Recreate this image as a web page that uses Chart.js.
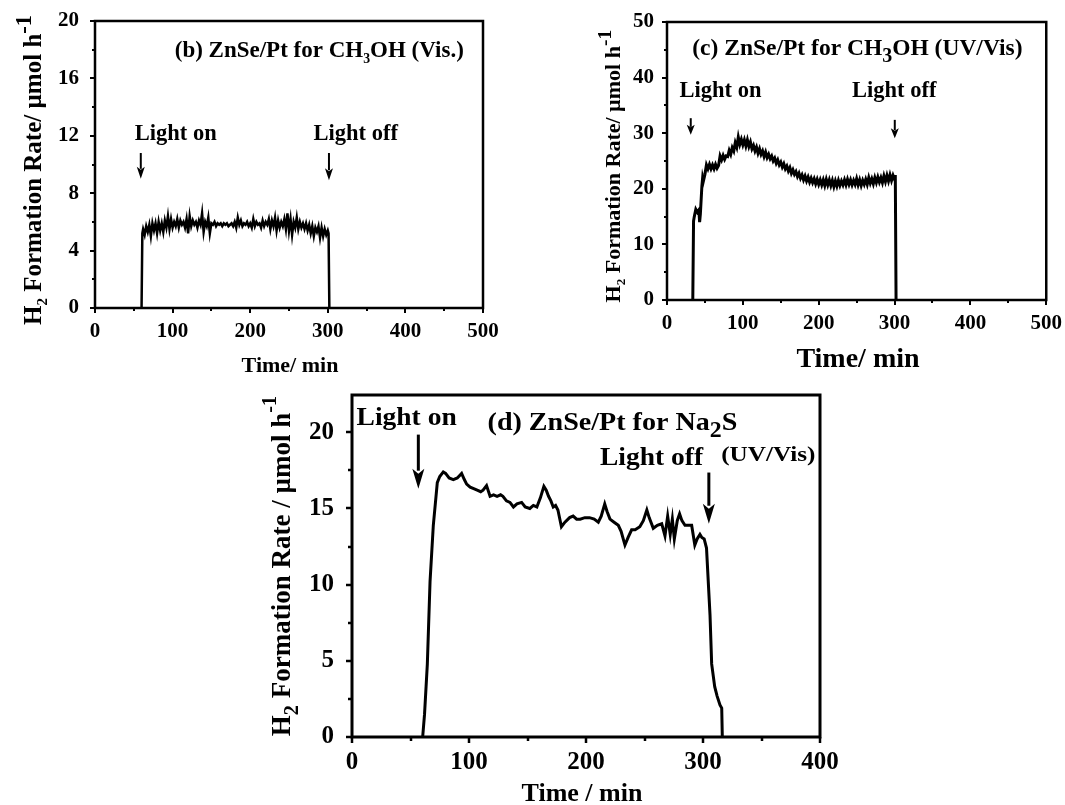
<!DOCTYPE html>
<html>
<head>
<meta charset="utf-8">
<script src="https://cdn.jsdelivr.net/npm/chart.js@4/dist/chart.umd.min.js"></script>
<style>
    body { margin: 0; background: #fff; }
    #wrap { position: relative; width: 1065px; height: 805px; background: #fff; }
    canvas { position: absolute; }
</style>
</head>
<body>
<div id="wrap">
    <canvas id="panelB" width="520" height="380" style="left:0px;top:0px;width:520px;height:380px"></canvas>
    <canvas id="panelC" width="485" height="380" style="left:580px;top:0px;width:485px;height:380px"></canvas>
    <canvas id="panelD" width="600" height="435" style="left:250px;top:370px;width:600px;height:435px"></canvas>
</div>
<script>
const FONT = "'Liberation Serif', 'Times New Roman', Times, serif"

// (b) ZnSe/Pt for CH3OH, visible light
const bTime = [60, 61, 62, 64, 66, 68, 70, 72, 74, 76, 78, 80, 82, 84, 86, 88, 90, 92, 94, 96, 98,
    100, 102, 104, 106, 108, 110, 112, 114, 116, 118, 120, 122, 124, 126, 128, 130, 132, 134, 136, 138,
    140, 142, 144, 146, 148, 150, 152, 154, 156, 158, 160, 162, 164, 166, 168, 170, 172, 174, 176, 178,
    180, 182, 184, 186, 188, 190, 192, 194, 196, 198, 200, 202, 204, 206, 208, 210, 212, 214, 216, 218,
    220, 222, 224, 226, 228, 230, 232, 234, 236, 238, 240, 242, 244, 246, 248, 250, 252, 254, 256, 258,
    260, 262, 264, 266, 268, 270, 272, 274, 276, 278, 280, 282, 284, 286, 288, 290, 292, 294, 296, 298,
    300, 301, 302]
const bRate = [0, 5.2, 5.5, 5.1, 5.7, 5.3, 5.8, 5.0, 5.9, 5.4, 5.9, 5.2, 6.0, 5.4, 5.9, 5.3, 6.1, 5.6, 6.4, 5.5, 6.2,
    5.6, 6.0, 5.7, 6.2, 5.6, 6.1, 5.8, 6.0, 5.6, 6.2, 5.2, 6.4, 5.7, 6.1, 5.8, 6.0, 5.6, 6.1, 5.8, 6.6,
    5.3, 6.0, 5.7, 6.3, 5.2, 5.9, 5.8, 6.0, 5.7, 5.9, 5.8, 5.9, 5.7, 5.9, 5.8, 5.9, 5.7, 5.8, 5.9, 5.7,
    6.0, 5.6, 6.3, 5.8, 6.1, 5.7, 5.9, 5.8, 6.0, 5.7, 5.9, 5.6, 6.2, 5.7, 6.0, 5.8, 5.9, 5.6, 6.1, 5.7,
    6.0, 5.8, 6.2, 5.5, 6.1, 5.7, 6.3, 5.4, 6.1, 5.6, 6.0, 5.7, 6.2, 5.5, 6.6, 5.4, 6.2, 5.1, 6.0, 5.6,
    6.3, 5.5, 6.0, 5.6, 5.9, 5.5, 5.9, 5.4, 5.8, 5.2, 5.7, 5.0, 5.6, 5.3, 5.7, 4.9, 5.6, 5.0, 5.5, 5.1,
    5.4, 5.2, 0]
const bXTicks = [0, 100, 200, 300, 400, 500]
const bXMinor = [50, 150, 250, 350, 450]
const bYTicks = [0, 4, 8, 12, 16, 20]
const bYMinor = [2, 6, 10, 14, 18]

// (c) ZnSe/Pt for CH3OH, UV/Vis
const cTime = [34, 35, 36, 38, 40, 42, 43, 44, 46, 47, 48, 50, 52, 54, 56, 58, 60, 62, 64, 66, 68,
    70, 72, 74, 76, 78, 80, 82, 84, 86, 88, 90, 92, 94, 96, 98, 100, 102, 104, 106, 108,
    110, 112, 114, 116, 118, 120, 122, 124, 126, 128, 130, 132, 134, 136, 138, 140, 142, 144, 146, 148,
    150, 152, 154, 156, 158, 160, 162, 164, 166, 168, 170, 172, 174, 176, 178, 180, 182, 184, 186, 188,
    190, 192, 194, 196, 198, 200, 202, 204, 206, 208, 210, 212, 214, 216, 218, 220, 222, 224, 226, 228,
    230, 232, 234, 236, 238, 240, 242, 244, 246, 248, 250, 252, 254, 256, 258, 260, 262, 264, 266, 268,
    270, 272, 274, 276, 278, 280, 282, 284, 286, 288, 290, 292, 294, 296, 298, 300, 301, 302]
const cRate = [0, 14.2, 15.0, 16.3, 15.8, 16.2, 14.0, 15.5, 20.5, 22.0, 21.4, 22.6, 24.3, 23.6, 24.4, 23.6, 24.3, 23.6, 24.4, 23.7, 24.2,
    25.9, 25.2, 26.0, 25.3, 25.9, 25.8, 26.9, 26.2, 27.4, 26.8, 28.3, 27.5, 29.3, 28.0, 28.9, 27.9, 28.8, 27.7, 28.8, 27.6,
    28.4, 27.2, 27.8, 26.8, 27.5, 26.4, 27.2, 26.2, 26.8, 25.8, 26.6, 25.6, 26.2, 25.4, 25.9, 25.0, 25.5, 24.6, 25.2, 24.3,
    24.8, 23.9, 24.5, 23.6, 24.1, 23.2, 23.8, 22.8, 23.4, 22.6, 23.1, 22.2, 22.8, 21.9, 22.5, 21.6, 22.3, 21.4, 22.1, 21.2,
    21.9, 21.1, 21.8, 20.9, 21.7, 20.8, 21.6, 20.7, 21.6, 20.6, 21.7, 20.7, 21.6, 20.6, 21.5, 20.4, 21.4, 20.5, 21.5, 20.6,
    21.4, 20.7, 21.6, 20.7, 21.7, 20.8, 21.6, 20.7, 21.5, 20.8, 21.8, 20.7, 21.6, 20.6, 21.5, 20.8, 21.7, 20.8, 22.0, 21.0,
    21.8, 20.9, 22.0, 21.1, 22.1, 21.2, 22.0, 21.1, 22.3, 21.3, 22.4, 21.4, 22.5, 21.5, 22.4, 21.7, 22.5, 0]
const cXTicks = [0, 100, 200, 300, 400, 500]
const cXMinor = [50, 150, 250, 350, 450]
const cYTicks = [0, 10, 20, 30, 40, 50]
const cYMinor = [5, 15, 25, 35, 45]

// (d) ZnSe/Pt for Na2S, UV/Vis
const dTime = [60.4, 62, 64.4, 66.7, 69.5, 72.9, 75, 78, 80, 83, 86.6, 90, 93.7, 96, 98, 101, 104, 107, 110, 112,
    115, 118, 121, 124, 127, 129, 132, 135, 138, 141, 145, 148, 152, 155, 158, 161, 164, 166, 168, 170,
    172, 174, 176, 179, 182, 186, 189, 192, 195, 199, 203, 207, 210.5, 213, 216, 218, 220.5, 224, 227.6, 230,
    233.3, 236, 239, 242, 246, 249, 252, 254, 257.5, 261, 264.7, 267.5, 269.8, 272, 273.8, 275.5, 278, 280, 282, 284.6,
    287, 290.3, 293, 295, 297.4, 299, 301, 303, 306, 307.4, 310, 312, 314.5, 316, 316.5]
const dRate = [0, 1.5, 4.8, 10.2, 13.9, 16.7, 17.1, 17.4, 17.3, 17.0, 16.9, 17.0, 17.3, 16.9, 16.6, 16.4, 16.3, 16.2, 16.1, 16.2,
    16.5, 15.8, 15.9, 15.8, 15.9, 15.8, 15.5, 15.4, 15.1, 15.3, 15.4, 15.1, 15.0, 15.2, 15.1, 15.7, 16.45, 16.2, 15.8, 15.5,
    15.1, 15.2, 14.9, 13.8, 14.1, 14.4, 14.5, 14.3, 14.3, 14.4, 14.4, 14.3, 14.1, 14.5, 15.3, 14.8, 14.3, 14.1, 13.9, 13.5,
    12.6, 13.1, 13.6, 13.6, 13.8, 14.2, 14.9, 14.4, 13.7, 13.9, 14.0, 13.2, 14.5, 13.3, 14.3, 13.0, 14.2, 14.65, 14.2, 13.9,
    13.9, 13.9, 12.6, 13.0, 13.3, 13.1, 13.0, 12.4, 8.0, 4.8, 3.3, 2.7, 2.1, 1.9, 0]
const dXTicks = [0, 100, 200, 300, 400]
const dXMinor = [50, 150, 250, 350]
const dYTicks = [0, 5, 10, 15, 20]
const dYMinor = [2.5, 7.5, 12.5, 17.5]

function setFont(ctx, size) {
    ctx.font = `bold ${size}px ${FONT}`
}

// parts: [text, scale, dy] -- dy in units of the base size, down is positive
function drawRich(ctx, parts, x, y, size, rotate, stretch) {
    ctx.save()
    ctx.translate(x, y)
    if (rotate) ctx.rotate(-Math.PI / 2)
    if (stretch) ctx.scale(stretch, 1)
    let w = 0
    parts.forEach(p => {
        setFont(ctx, size * (p[1] || 1))
        w += ctx.measureText(p[0]).width
    })
    let cx = -w / 2
    ctx.fillStyle = '#000'
    ctx.textAlign = 'left'
    ctx.textBaseline = 'alphabetic'
    parts.forEach(p => {
        setFont(ctx, size * (p[1] || 1))
        ctx.fillText(p[0], cx, size * 0.33 + size * (p[2] || 0))
        cx += ctx.measureText(p[0]).width
    })
    ctx.restore()
}

function drawArrow(ctx, x, y1, y2, a) {
    ctx.save()
    ctx.strokeStyle = '#000'
    ctx.fillStyle = '#000'
    ctx.lineWidth = a.lw
    ctx.beginPath()
    ctx.moveTo(x, y1)
    ctx.lineTo(x, y2 - a.h + 2)
    ctx.stroke()
    ctx.beginPath()
    ctx.moveTo(x - a.w / 2, y2 - a.h)
    ctx.lineTo(x, y2 - a.h * 0.75)
    ctx.lineTo(x + a.w / 2, y2 - a.h)
    ctx.lineTo(x, y2)
    ctx.closePath()
    ctx.fill()
    ctx.restore()
}

const panelDecor = {
    id: 'panelDecor',
    afterDraw(chart, args, opts) {
        const ctx = chart.ctx
        const area = chart.chartArea
        const xs = chart.scales.x
        const ys = chart.scales.y
        ctx.save()
        ctx.strokeStyle = '#000'
        ctx.lineWidth = opts.frame
        ctx.strokeRect(area.left, area.top, area.right - area.left, area.bottom - area.top)
        ctx.lineWidth = opts.tickWidth
        const tick = (scale, values, len, horizontal) => {
            values.forEach(v => {
                const p = Math.round(scale.getPixelForValue(v))
                ctx.beginPath()
                if (horizontal) {
                    ctx.moveTo(p, area.bottom)
                    ctx.lineTo(p, area.bottom + len)
                } else {
                    ctx.moveTo(area.left, p)
                    ctx.lineTo(area.left - len, p)
                }
                ctx.stroke()
            })
        }
        tick(xs, opts.xMajor, opts.major, true)
        tick(xs, opts.xMinor, opts.minor, true)
        tick(ys, opts.yMajor, opts.major, false)
        tick(ys, opts.yMinor, opts.minor, false)
        ctx.restore()

        opts.texts.forEach(t => {
            drawRich(ctx, t.parts, xs.getPixelForValue(t.x), ys.getPixelForValue(t.y), t.size, false, t.stretch)
        })
        opts.arrows.forEach(a => {
            drawArrow(ctx, xs.getPixelForValue(a.x), ys.getPixelForValue(a.y1), ys.getPixelForValue(a.y2), opts.arrow)
        })
        drawRich(ctx, opts.yTitle.parts, opts.yTitle.x, opts.yTitle.y, opts.yTitle.size, true)
        drawRich(ctx, opts.xTitle.parts, opts.xTitle.x, opts.xTitle.y, opts.xTitle.size)
    }
}

function makePanel(id, p) {
    const tickFont = { family: FONT, size: p.tickSize, weight: 'bold' }
    return new Chart(document.getElementById(id), {
        type: 'line',
        data: {
            datasets: [{
                data: p.time.map((t, i) => ({ x: t, y: p.rate[i] })),
                borderColor: '#000',
                borderWidth: p.lineWidth,
                pointRadius: 0,
                tension: 0,
                fill: false,
            }],
        },
        options: {
            responsive: false,
            animation: false,
            devicePixelRatio: 1,
            events: [],
            layout: { padding: { top: p.pad.top, right: p.pad.right, left: 0, bottom: 0 } },
            plugins: {
                legend: { display: false },
                tooltip: { enabled: false },
                panelDecor: p.decor,
            },
            scales: {
                x: {
                    type: 'linear',
                    min: p.xRange[0],
                    max: p.xRange[1],
                    grid: { display: false },
                    border: { display: false },
                    ticks: { font: tickFont, color: '#000', padding: p.xPad, maxRotation: 0 },
                    afterBuildTicks: s => { s.ticks = p.xTicks.map(v => ({ value: v })) },
                    afterFit: s => { s.height = p.xHeight },
                },
                y: {
                    type: 'linear',
                    min: p.yRange[0],
                    max: p.yRange[1],
                    grid: { display: false },
                    border: { display: false },
                    ticks: { font: tickFont, color: '#000', padding: p.yPad },
                    afterBuildTicks: s => { s.ticks = p.yTicks.map(v => ({ value: v })) },
                    afterFit: s => { s.width = p.yWidth },
                },
            },
        },
        plugins: [panelDecor],
    })
}

makePanel('panelB', {
    time: bTime, rate: bRate, lineWidth: 2.5,
    xRange: [0, 500], yRange: [0, 20], xTicks: bXTicks, yTicks: bYTicks,
    tickSize: 21, xPad: 3, yPad: 8,
    pad: { top: 21, right: 37 }, yWidth: 95, xHeight: 72,
    decor: {
        frame: 2.5, tickWidth: 2, major: 5, minor: 3,
        xMajor: bXTicks, xMinor: bXMinor, yMajor: bYTicks, yMinor: bYMinor,
        arrow: { lw: 2, w: 8, h: 12 },
        texts: [
            { parts: [['(b) ZnSe/Pt for CH'], ['3', 0.6, 0.25], ['OH (Vis.)']], x: 289, y: 18, size: 23 },
            { parts: [['Light on']], x: 104, y: 12.2, size: 22.5 },
            { parts: [['Light off']], x: 336, y: 12.2, size: 22.5 },
        ],
        arrows: [{ x: 59, y1: 10.8, y2: 9.0 }, { x: 301.5, y1: 10.8, y2: 8.9 }],
        yTitle: { parts: [['H'], ['2', 0.6, 0.22], [' Formation Rate/ µmol h'], ['-1', 0.9, -0.42]], x: 33, y: 170, size: 25 },
        xTitle: { parts: [['Time/ min']], x: 290, y: 365, size: 22 },
    },
})

makePanel('panelC', {
    time: cTime, rate: cRate, lineWidth: 3,
    xRange: [0, 500], yRange: [0, 50], xTicks: cXTicks, yTicks: cYTicks,
    tickSize: 21, xPad: 3, yPad: 5,
    pad: { top: 22, right: 15 }, yWidth: 87, xHeight: 80,
    decor: {
        frame: 2.5, tickWidth: 2, major: 5, minor: 3,
        xMajor: cXTicks, xMinor: cXMinor, yMajor: cYTicks, yMinor: cYMinor,
        arrow: { lw: 2, w: 8, h: 10 },
        texts: [
            { parts: [['(c) ZnSe/Pt for CH'], ['3', 0.85, 0.3], ['OH (UV/Vis)']], x: 251, y: 45.5, size: 23.5 },
            { parts: [['Light on']], x: 70.5, y: 37.9, size: 22.5 },
            { parts: [['Light off']], x: 299.6, y: 37.9, size: 22.5 },
        ],
        arrows: [{ x: 31.3, y1: 32.7, y2: 29.7 }, { x: 300.3, y1: 32.4, y2: 29.1 }],
        yTitle: { parts: [['H'], ['2', 0.6, 0.22], [' Formation Rate/ µmol h'], ['-1', 0.9, -0.42]], x: 33, y: 166, size: 22 },
        xTitle: { parts: [['Time/ min']], x: 278, y: 358, size: 28 },
    },
})

makePanel('panelD', {
    time: dTime, rate: dRate, lineWidth: 3,
    xRange: [0, 400], yRange: [0, 22.45], xTicks: dXTicks, yTicks: dYTicks,
    tickSize: 25, xPad: 3, yPad: 10,
    pad: { top: 22, right: 30 }, yWidth: 102, xHeight: 68,
    decor: {
        frame: 3, tickWidth: 2.5, major: 6, minor: 4,
        xMajor: dXTicks, xMinor: dXMinor, yMajor: dYTicks, yMinor: dYMinor,
        arrow: { lw: 3, w: 12, h: 20 },
        texts: [
            { parts: [['(d) ZnSe/Pt for Na'], ['2', 0.85, 0.27], ['S']], x: 222.6, y: 20.7, size: 26, stretch: 1.08 },
            { parts: [['(UV/Vis)']], x: 355.8, y: 18.6, size: 21, stretch: 1.2 },
            { parts: [['Light on']], x: 46.7, y: 21.0, size: 25, stretch: 1.1 },
            { parts: [['Light off']], x: 256, y: 18.4, size: 25, stretch: 1.1 },
        ],
        arrows: [{ x: 56.7, y1: 19.85, y2: 16.3 }, { x: 305, y1: 17.36, y2: 14.0 }],
        yTitle: { parts: [['H'], ['2', 0.75, 0.3], [' Formation Rate / µmol h'], ['-1', 0.75, -0.5]], x: 31, y: 196, size: 27 },
        xTitle: { parts: [['Time / min']], x: 332, y: 422, size: 26 },
    },
})
</script>
</body>
</html>
